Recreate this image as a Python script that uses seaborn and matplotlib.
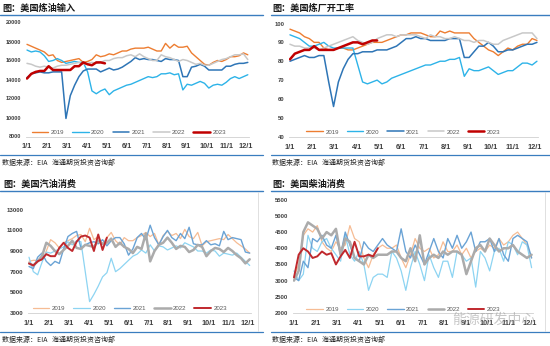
import numpy as np
import pandas as pd
import matplotlib
matplotlib.use("Agg")
import matplotlib.pyplot as plt
import seaborn as sns
from matplotlib.lines import Line2D

YEARS = ["2019", "2020", "2021", "2022", "2023"]
MONTH_LABELS = [f"{m}/1" for m in range(1, 13)]
WEEKS_PER_MONTH = 4.6

# ---------------- 美国炼油输入 (kb/d) ----------------
input_2019 = [17700, 17500, 17300, 17100, 16900, 16500, 16600, 16000, 15800, 15900,
              16000, 16100, 16200, 15800, 15900, 16100, 16600, 16400, 16500, 16700,
              16600, 16800, 17000, 17000, 17200, 17300, 17300, 17300, 17400, 17200,
              17000, 17000, 17800, 17300, 17700, 17400, 17400, 17500, 16800, 16400,
              16000, 15600, 15500, 15800, 16000, 15900, 16100, 16400, 16400, 16500,
              16800, 16600]
input_2020 = [17100, 16900, 17000, 16900, 16500, 15900, 16000, 16200, 16000, 15700,
              15800, 15900, 15800, 15800, 14800, 12800, 12500, 12800, 13000, 12400,
              12800, 13000, 13200, 13400, 13500, 13700, 13900, 14100, 14300, 14200,
              14300, 14600, 14600, 14700, 14500, 14600, 12900, 13500, 13400, 13600,
              13800, 13600, 13100, 13400, 13500, 13400, 13700, 14100, 14300, 14100,
              14300, 14500]
input_2021 = [14200, 14600, 14700, 14800, 14700, 14700, 14800, 14800, 14800, 9900,
              12300, 13400, 14300, 14900, 15100, 15100, 15100, 14800, 15000, 15200,
              15000, 15100, 15300, 15600, 15900, 16300, 16100, 16200, 16100, 16100,
              16000, 15900, 16200, 16100, 16100, 16000, 14300, 14300, 15300, 15400,
              15600, 15400, 15000, 15000, 15000, 15000, 15400, 15400, 15600, 15700,
              15700, 15800]
input_2022 = [15700, 15600, 15400, 15300, 15400, 15300, 15200, 15400, 15500, 15500,
              15600, 15700, 15800, 15600, 15700, 15800, 15700, 15800, 16000, 16000,
              16200, 16300, 16300, 16500, 16600, 16400, 16700, 16400, 16200, 16000,
              16000, 16600, 16400, 16300, 16100, 15900, 16100, 16000, 15800, 15600,
              15700, 15500, 15500, 15700, 15900, 16100, 16200, 16400, 16600, 16600,
              16700, 16100]
input_2023 = [14100, 14600, 14800, 14900, 14900, 15400, 15000, 15000, 15000, 15000,
              15000, 15400, 15400, 15800, 15600, 15500, 15800, 15800, 15700]

# ---------------- 美国炼厂开工率 (%) ----------------
util_2019 = [97, 96, 95, 93, 92, 90, 90, 87, 86, 86,
             87, 87, 86, 86, 87, 88, 89, 90, 90, 90,
             91, 92, 93, 94, 94, 95, 95, 95, 94, 93,
             93, 96, 95, 96, 95, 95, 95, 95, 92, 90,
             88, 86, 85, 83, 85, 87, 86, 88, 89, 89,
             92, 91]
util_2020 = [94, 93, 92, 90, 88, 88, 89, 90, 88, 87,
             87, 87, 87, 87, 78, 69, 68, 69, 70, 68,
             69, 71, 72, 73, 74, 75, 76, 77, 78, 78,
             79, 80, 80, 81, 81, 82, 72, 76, 75, 75,
             76, 77, 75, 73, 74, 75, 75, 77, 79, 79,
             78, 80]
util_2021 = [80, 81, 82, 83, 82, 82, 83, 83, 69, 56,
             69, 76, 81, 84, 84, 85, 85, 85, 86, 86,
             86, 87, 88, 90, 92, 92, 93, 92, 92, 91,
             91, 91, 91, 92, 92, 92, 82, 82, 85, 88,
             88, 90, 88, 85, 85, 86, 86, 87, 88, 89,
             89, 90]
util_2022 = [89, 88, 88, 87, 87, 87, 86, 87, 88, 89,
             90, 91, 92, 93, 91, 90, 89, 90, 92, 93,
             94, 94, 93, 94, 94, 94, 94, 93, 92, 94,
             93, 93, 92, 92, 93, 92, 91, 91, 90, 91,
             91, 90, 89, 89, 91, 92, 93, 94, 95, 95,
             95, 92]
util_2023 = [81, 84, 85, 86, 86, 88, 86, 86, 86, 86,
             87, 88, 89, 90, 90, 89, 90, 91, 91]

# ---------------- 美国汽油消费 (kb/d) ----------------
gas_2019 = [8000, 8100, 8100, 8100, 9000, 10100, 9800, 9300, 9800, 10000,
            10200, 10500, 10600, 9900, 11200, 10100, 10400, 9700, 10300, 10800,
            10000, 9600, 10300, 10000, 10000, 10300, 10500, 10800, 10400, 10700,
            9600, 10500, 10900, 10500, 10700, 10200, 11100, 10400, 10200, 10800,
            9500, 9900, 10000, 10100, 10200, 10100, 10600, 10200, 9800, 9500,
            9200, 8800]
gas_2020 = [8400, 7000, 6700, 7900, 8900, 8800, 9000, 9200, 9400, 9900,
            9600, 10000, 9900, 7000, 4100, 4800, 5600, 6500, 6900, 8300,
            7000, 7300, 7700, 8100, 8500, 8700, 9100, 8800, 9600, 9000,
            9500, 9400, 9100, 9300, 9500, 9300, 9800, 9600, 9400, 9000,
            9000, 8800, 9100, 9000, 8500, 8800, 8700, 8600, 8800, 8400,
            8000, 7600]
gas_2021 = [7500, 7300, 8400, 8800, 8000, 7600, 8000, 7800, 9200, 10400,
            10700, 10900, 9300, 9600, 9800, 9900, 9700, 10100, 9500, 10000,
            10300, 10300, 9700, 8600, 9200, 10300, 10700, 10100, 11500, 10300,
            9600, 10400, 11000, 10300, 10000, 10700, 10200, 11300, 9700, 9600,
            9600, 10000, 9600, 9700, 9500, 10900, 10100, 10300, 10200, 10100,
            8900, 8800]
gas_2022 = [7800, 7600, 8000, 8500, 9800, 9500, 9000, 8700, 9100, 9500,
            10000, 9300, 9200, 9600, 9500, 9400, 10000, 9700, 9800, 10200,
            9400, 9800, 9400, 9200, 8800, 9400, 9200, 10700, 8000, 9000,
            9600, 9800, 10300, 9800, 9200, 9500, 9400, 8900, 9100, 9600,
            9400, 8500, 9000, 9300, 9200, 8900, 9300, 9000, 8600, 8300,
            7800, 8200]
gas_2023 = [7800, 7600, 8000, 8200, 8700, 8500, 8500, 9300, 9800, 9300,
            9000, 9900, 10400, 10500, 10300, 9000, 10600, 9100, 10300]

# ---------------- 美国柴油消费 (kb/d) ----------------
dsl_2019 = [3100, 3500, 4400, 4600, 4500, 4700, 4200, 4000, 3900, 4200,
            4000, 4100, 4700, 4300, 4200, 3700, 3400, 3800, 4000, 4100,
            4000, 4000, 4100, 3700, 3400, 3800, 4300, 4000, 3900, 4000,
            3700, 3800, 4200, 3900, 3900, 4100, 3800, 4000, 3700, 3900,
            4000, 3900, 4100, 4000, 4300, 4100, 4200, 4400, 4500, 4300,
            4100, 3700]
dsl_2020 = [3300, 3000, 3200, 4400, 4000, 3900, 4200, 4300, 4000, 3800,
            3600, 4400, 3800, 3600, 3900, 3500, 2700, 3100, 3200, 3200,
            3100, 3900, 3700, 3300, 2700, 3400, 3900, 3500, 3000, 3800,
            3400, 3100, 3600, 3600, 3100, 3900, 3800, 3600, 3700, 2800,
            3900, 3700, 3300, 3900, 4000, 3600, 4200, 4100, 3800, 4200,
            4100, 3400]
dsl_2021 = [3100, 3000, 3600, 3400, 4300, 4200, 4400, 4100, 4000, 4400,
            3800, 4500, 4100, 3700, 3600, 4200, 4000, 3900, 4100, 4300,
            4100, 4000, 3900, 4600, 3900, 3700, 4100, 3800, 3500, 3900,
            4300, 3900, 3700, 4300, 4000, 4400, 4000, 4200, 4500, 3900,
            4200, 4200, 4300, 3900, 4300, 3800, 3600, 4300, 4400, 4300,
            4200, 3700]
dsl_2022 = [3000, 3300, 4500, 4800, 4700, 4600, 4300, 4500, 4400, 4600,
            3800, 4300, 4200, 3700, 3600, 3500, 3800, 3700, 3800, 3800,
            3800, 3900, 3900, 3700, 3600, 4000, 3600, 4400, 3500, 3700,
            3800, 3700, 3900, 3800, 3900, 3900, 3800, 3200, 3600, 4000,
            4100, 3900, 4300, 4100, 3900, 4000, 4000, 4100, 3900, 3800,
            3700, 3800]
dsl_2023 = [3100, 3800, 4000, 3900, 3700, 3750, 3900, 3800, 3850, 3500,
            3750, 3950, 3700, 4200, 3750, 3750, 3800, 3750, 4000]

TOP_COLORS = ["#ED7D31", "#2DB3E8", "#2E75B6", "#C8C8C8", "#C00000"]
TOP_WIDTHS = [1.0, 1.0, 1.1, 1.1, 1.8]
BOT_COLORS = ["#F6BC94", "#8DD4F2", "#6AA3D5", "#ABABAB", "#C0282D"]
BOT_WIDTHS = [0.9, 0.9, 1.0, 1.8, 1.4]

SOURCE = "数据来源：EIA   海通期货投资咨询部"
BLUE = "#3A7DBF"

sns.set_style("white")
plt.rcParams["font.family"] = ["Noto Sans CJK SC", "DejaVu Sans"]

W, H = 550, 346
fig = plt.figure(figsize=(W / 100, H / 100), dpi=100)


def rect(l, t, r, b):
    return [l / W, 1 - b / H, (r - l) / W, (b - t) / H]


def fx(px):
    return px / W


def fy(py):
    return 1 - py / H


panels = [
    dict(title="图：美国炼油输入", data=[input_2019, input_2020, input_2021, input_2022, input_2023],
         ylim=(8000, 20000), yticks=np.arange(8000, 20001, 2000), box=(25.7, 22.5, 249.1, 136.5),
         colors=TOP_COLORS, widths=TOP_WIDTHS, leg=(0.462, 0.039), ysize=4.0),
    dict(title="图：美国炼厂开工率", data=[util_2019, util_2020, util_2021, util_2022, util_2023],
         ylim=(40, 100), yticks=np.arange(40, 101, 10), box=(288.5, 23.5, 538.4, 136.7),
         colors=TOP_COLORS, widths=TOP_WIDTHS, leg=(0.46, 0.042), ysize=4.2),
    dict(title="图：美国汽油消费", data=[gas_2019, gas_2020, gas_2021, gas_2022, gas_2023],
         ylim=(3000, 13000), yticks=np.arange(3000, 13001, 2000), box=(27.7, 209.7, 251.0, 313.0),
         colors=BOT_COLORS, widths=BOT_WIDTHS, leg=(0.458, 0.042), ysize=4.4),
    dict(title="图：美国柴油消费", data=[dsl_2019, dsl_2020, dsl_2021, dsl_2022, dsl_2023],
         ylim=(2000, 5500), yticks=np.arange(2000, 5501, 500), box=(292.6, 199.7, 533.0, 313.0),
         colors=BOT_COLORS, widths=BOT_WIDTHS, leg=(0.461, 0.035), ysize=4.2),
]

for p in panels:
    ax = fig.add_axes(rect(*p["box"]))
    for yr, vals, c, lw in zip(YEARS, p["data"], p["colors"], p["widths"]):
        df = pd.DataFrame({"week": np.arange(len(vals)), "value": vals})
        sns.lineplot(data=df, x="week", y="value", ax=ax, color=c, linewidth=lw, label=yr)
    ax.set_xlim(-0.3, 51.3)
    ax.set_ylim(*p["ylim"])
    ax.set_yticks(p["yticks"])
    ax.set_yticklabels([str(int(v)) for v in p["yticks"]], fontsize=p["ysize"],
                       fontweight="bold", color="#404040", family="Liberation Sans")
    ax.set_xticks([k * WEEKS_PER_MONTH for k in range(12)])
    ax.set_xticklabels(MONTH_LABELS, fontsize=5.3, fontweight="bold", color="#404040",
                       family="Liberation Sans")
    ax.set_xlabel("")
    ax.set_ylabel("")
    for s in ["top", "right", "left"]:
        ax.spines[s].set_visible(False)
    ax.spines["bottom"].set_color("#D0D0D0")
    ax.spines["bottom"].set_linewidth(0.6)
    ax.tick_params(axis="x", length=2, width=0.5, color="#C0C0C0", pad=3)
    ax.tick_params(axis="y", length=0, pad=3)
    ax.set_facecolor("none")
    handles, labels = ax.get_legend_handles_labels()
    ax.legend(handles, labels, loc="center", bbox_to_anchor=p["leg"], ncol=5, frameon=False,
              prop={"family": "Liberation Sans", "size": 4.4}, labelcolor="#595959",
              handlelength=2.7, handletextpad=0.4, columnspacing=1.3, borderaxespad=0)

# titles, header lines, source lines
title_pos = [(2, 8), (272, 8), (3, 184.5), (272, 184.5)]
for (tx, ty), p in zip(title_pos, panels):
    fig.text(fx(tx), fy(ty), p["title"], fontsize=6.6, fontweight="bold", color="#1A1A1A",
             va="center", ha="left")

for (x0, x1) in [(0, 263), (271, 550)]:
    fig.add_artist(Line2D([fx(x0), fx(x1)], [fy(15), fy(15)], color=BLUE, lw=1.0))
    fig.add_artist(Line2D([fx(x0), fx(x1)], [fy(154.5), fy(154.5)], color=BLUE, lw=0.9))
    fig.add_artist(Line2D([fx(x0), fx(x1)], [fy(191), fy(191)], color=BLUE, lw=1.0))
    fig.add_artist(Line2D([fx(x0), fx(x1)], [fy(332), fy(332)], color=BLUE, lw=0.9))

for xv in (258, 545):
    fig.add_artist(Line2D([fx(xv), fx(xv)], [fy(192), fy(331)], color="#DADADA", lw=0.6))

for sx, sy in [(2, 163), (272, 163), (2, 340), (272, 340)]:
    fig.text(fx(sx), fy(sy), SOURCE, fontsize=5.0, color="#262626", va="center", ha="left")

fig.text(fx(452), fy(320), "能源研发中心", fontsize=10, color="#9A9A9A", alpha=0.55,
         va="center", ha="left")

fig.savefig("out.png", dpi=100)
